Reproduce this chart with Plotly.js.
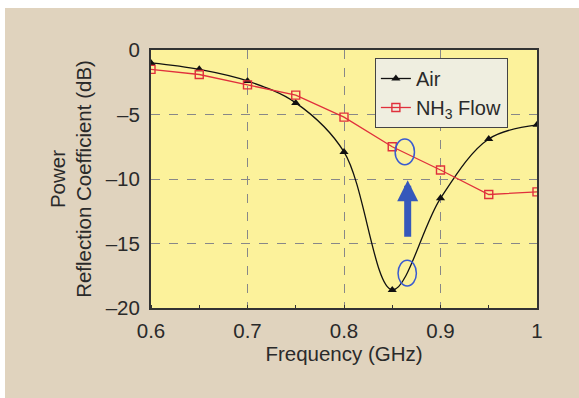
<!DOCTYPE html>
<html><head><meta charset="utf-8">
<script src="https://cdn.plot.ly/plotly-3.0.1.min.js"></script>
<style>html,body{margin:0;padding:0;background:#fff;}#chart{position:absolute;left:5px;top:8px;width:574px;height:390px;}</style>
</head><body><div id="chart"></div>
<script>
const freq = [0.6, 0.65, 0.7, 0.75, 0.8, 0.85, 0.9, 0.95, 1.0];
const air = [-1.0, -1.5, -2.4, -4.1, -7.9, -18.6, -11.5, -6.9, -5.8];
const nh3 = [-1.5, -1.9, -2.7, -3.5, -5.2, -7.5, -9.3, -11.2, -11.0];
const xTicks = [0.6, 0.7, 0.8, 0.9, 1];
const xTickText = ['0.6', '0.7', '0.8', '0.9', '1'];
const yTicks = [0, -5, -10, -15, -20];
const yTickText = ['0', '\u20135', '\u201310', '\u201315', '\u201320'];
// highlight ellipses [x0,x1,y0,y1] and arrow [x, yTail, yHead]
const ellipse1 = [0.853, 0.873, -8.9, -6.9];
const ellipse2 = [0.856, 0.875, -18.3, -16.3];
const arrow = [0.866, -14.6, -10.1];

const font = {family: 'Liberation Sans, Arial, sans-serif', size: 20.5, color: '#2a2a2a'};
const legFont = {family: 'Liberation Sans, Arial, sans-serif', size: 20, color: '#2a2a2a'};
const traces = [
  {x: freq, y: air, name: 'Air', type: 'scatter', mode: 'lines+markers',
   line: {color: '#111', width: 1.3, shape: 'spline', smoothing: 1.0},
   marker: {symbol: 'triangle-up', size: 8, color: '#111'}},
  {x: freq, y: nh3, name: 'NH<sub>3</sub> Flow', type: 'scatter', mode: 'lines+markers',
   line: {color: '#e0303c', width: 1.3},
   marker: {symbol: 'square-open', size: 8, color: '#e0303c', line: {width: 1.4}}}
];
const layout = {
  width: 574, height: 390,
  margin: {l: 146, r: 42, t: 42, b: 90},
  paper_bgcolor: '#e0d3be', plot_bgcolor: '#fcf29b',
  font: font,
  showlegend: true,
  legend: {x: 0.58, y: 0.969, xanchor: 'left', yanchor: 'top', bgcolor: '#efeee0',
           bordercolor: '#444', borderwidth: 1, font: legFont, tracegroupgap: 0},
  xaxis: {range: [0.6, 1.0], tickvals: xTicks, ticktext: xTickText, showgrid: true,
          gridcolor: '#888', griddash: 'dash', gridwidth: 1, zeroline: false,
          showline: true, linecolor: '#333', linewidth: 2, mirror: true,
          ticks: '', ticklabelstandoff: 3,
          minor: {dtick: 0.05, tick0: 0.6, ticks: 'inside', ticklen: 3, tickcolor: '#333', showgrid: false},
          title: {text: 'Frequency (GHz)', font: font, standoff: 6}, tickfont: font},
  yaxis: {range: [-20, 0], tickvals: yTicks, ticktext: yTickText, showgrid: true,
          gridcolor: '#888', griddash: 'dash', gridwidth: 1, zeroline: false,
          showline: true, linecolor: '#333', linewidth: 2, mirror: true,
          ticks: '', ticklabelstandoff: 5,
          title: {text: 'Power<br>Reflection Coefficient (dB)', font: font, standoff: 8}, tickfont: font},
  shapes: [
    {type: 'circle', xref: 'x', yref: 'y', x0: ellipse1[0], x1: ellipse1[1], y0: ellipse1[2], y1: ellipse1[3],
     line: {color: '#3a5bd0', width: 1.5}},
    {type: 'circle', xref: 'x', yref: 'y', x0: ellipse2[0], x1: ellipse2[1], y0: ellipse2[2], y1: ellipse2[3],
     line: {color: '#3a5bd0', width: 1.5}}
  ],
  annotations: [
    {x: arrow[0], y: arrow[2], ax: arrow[0], ay: arrow[1], xref: 'x', yref: 'y', axref: 'x', ayref: 'y',
     showarrow: true, arrowhead: 2, arrowsize: 0.6, arrowwidth: 7, arrowcolor: '#3558bb', text: ''}
  ]
};
Plotly.newPlot('chart', traces, layout, {displayModeBar: false, staticPlot: true});
</script></body></html>
